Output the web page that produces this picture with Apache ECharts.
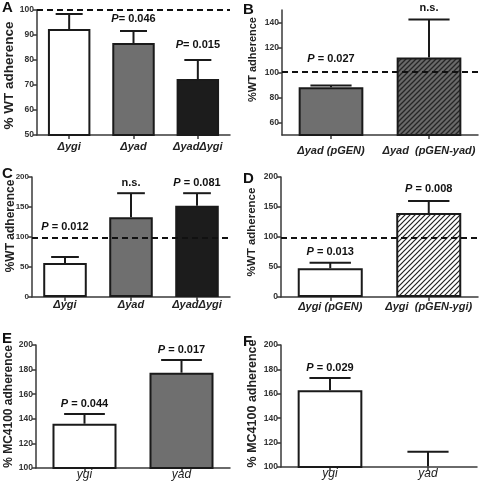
<!DOCTYPE html>
<html><head><meta charset="utf-8">
<script src="https://cdn.jsdelivr.net/npm/echarts@6/dist/echarts.min.js"></script>
<style>html,body{margin:0;padding:0;background:#fff}#c{width:480px;height:484px}</style>
</head><body><div id="c"></div>
<script>
// ---------- DATA ----------
// Panel A
const catsA = ['Δygi', 'Δyad', 'ΔyadΔygi'];
const meanA = [92.4, 86.8, 72.4];
const errA = [6.0, 4.8, 7.6];
const noteA = ['', 'P= 0.046', 'P= 0.015'];
const noteAtA = [0, 96.4, 86];
const refA = 100;
const ticksA = [50, 60, 70, 80, 90, 100];
// Panel B
const catsB = ['Δyad (pGEN)', 'Δyad  (pGEN-yad)'];
const meanB = [88.2, 112];
const errB = [1.4, 30.4];
const noteB = ['P = 0.027', 'n.s.'];
const noteAtB = [111.2, 152];
const refB = 101;
const ticksB = [60, 80, 100, 120, 140];
// Panel C
const catsC = ['Δygi', 'Δyad', 'ΔyadΔygi'];
const meanC = [56.7, 133, 152];
const errC = [10, 40, 21];
const noteC = ['P = 0.012', 'n.s.', 'P = 0.081'];
const noteAtC = [116.7, 190, 190];
const refC = 98;
const ticksC = [0, 50, 100, 150, 200];
// Panel D
const catsD = ['Δygi (pGEN)', 'Δygi  (pGEN-ygi)'];
const meanD = [48, 140];
const errD = [9, 20];
const noteD = ['P = 0.013', 'P = 0.008'];
const noteAtD = [75, 180];
const refD = 98;
const ticksD = [0, 50, 100, 150, 200];
// Panel E
const catsE = ['ygi', 'yad'];
const meanE = [136, 177.5];
const errE = [8, 10.3];
const noteE = ['P = 0.044', 'P = 0.017'];
const noteAtE = [152, 196];
const ticksE = [100, 120, 140, 160, 180, 200];
// Panel F
const catsF = ['ygi', 'yad'];
const meanF = [163, 100.5];
const errF = [10, 12];
const noteF = ['P = 0.029', ''];
const noteAtF = [181, 0];
const ticksF = [100, 120, 140, 160, 180, 200];

// ---------- STYLE ----------
const FONT = 'Liberation Sans, Arial, sans-serif';
const INK = '#1a1a1a';
function hatch(bg, fg, s, lw) {
  const c = document.createElement('canvas');
  c.width = s; c.height = s;
  const x = c.getContext('2d');
  x.fillStyle = bg; x.fillRect(0, 0, s, s);
  x.strokeStyle = fg; x.lineWidth = lw;
  x.beginPath();
  x.moveTo(0, s); x.lineTo(s, 0);
  x.moveTo(-1, 1); x.lineTo(1, -1);
  x.moveTo(s - 1, s + 1); x.lineTo(s + 1, s - 1);
  x.stroke();
  return { image: c, repeat: 'repeat' };
}
const FILL = {
  white: '#ffffff',
  grey: '#6f6f6f',
  black: '#1c1c1c',
  hatchGrey: hatch('#6a6a6a', '#262626', 5, 1.3),
  hatchWhite: hatch('#ffffff', '#222222', 5, 1.2)
};

const panels = [
  { cats: catsA, mean: meanA, err: errA, note: noteA, noteAt: noteAtA, ref: refA, ticks: ticksA, min: 50, max: 100,
    fills: ['white', 'grey', 'black'], grid: { left: 37, top: 10, width: 193, height: 125 }, tickSize: 8.5,
    name: '% WT adherence', nameSize: 13.5, nameGap: 21, namePad: [0, 6, 0, 0],
    catStyle: { fontStyle: 'italic', fontWeight: 'bold', fontSize: 11 }, catMargin: 6.5, letter: 'A', lx: 2, ly: 0 },
  { cats: catsB, mean: meanB, err: errB, note: noteB, noteAt: noteAtB, ref: refB, ticks: ticksB, min: 50, max: 150,
    fills: ['grey', 'hatchGrey'], grid: { left: 282, top: 10, width: 196, height: 125 }, tickSize: 8.5,
    name: '%WT adherence', nameSize: 11, nameGap: 23.5, namePad: [0, 0, 0, 26],
    catStyle: { fontStyle: 'italic', fontWeight: 'bold', fontSize: 11 }, catMargin: 10, letter: 'B', lx: 243, ly: 2 },
  { cats: catsC, mean: meanC, err: errC, note: noteC, noteAt: noteAtC, ref: refC, ticks: ticksC, min: 0, max: 200,
    fills: ['white', 'grey', 'black'], grid: { left: 32, top: 177, width: 198, height: 120 }, tickSize: 8,
    name: '%WT adherence', nameSize: 12, nameGap: 15, namePad: [0, 0, 0, 22],
    catStyle: { fontStyle: 'italic', fontWeight: 'bold', fontSize: 11 }, catMargin: 2, letter: 'C', lx: 2, ly: 166 },
  { cats: catsD, mean: meanD, err: errD, note: noteD, noteAt: noteAtD, ref: refD, ticks: ticksD, min: 0, max: 200,
    fills: ['white', 'hatchWhite'], grid: { left: 281, top: 177, width: 197, height: 120 }, tickSize: 8.5,
    name: '%WT adherence', nameSize: 11.5, nameGap: 23, namePad: [0, 0, 0, 10],
    catStyle: { fontStyle: 'italic', fontWeight: 'bold', fontSize: 11 }, catMargin: 4, letter: 'D', lx: 243, ly: 171 },
  { cats: catsE, mean: meanE, err: errE, note: noteE, noteAt: noteAtE, ref: null, ticks: ticksE, min: 100, max: 200,
    fills: ['white', 'grey'], grid: { left: 36, top: 345, width: 194, height: 123 }, tickSize: 8.5,
    name: '% MC4100 adherence', nameSize: 12, nameGap: 21, namePad: [0, 0, 0, 0],
    catStyle: { fontStyle: 'italic', fontWeight: 'normal', fontSize: 12 }, catMargin: 1, letter: 'E', lx: 2, ly: 331 },
  { cats: catsF, mean: meanF, err: errF, note: noteF, noteAt: noteAtF, ref: null, ticks: ticksF, min: 100, max: 200,
    fills: ['white', 'white'], grid: { left: 281, top: 345, width: 196, height: 122 }, tickSize: 8.5,
    name: '% MC4100 adherence', nameSize: 12.5, nameGap: 22, namePad: [0, 0, 0, 5],
    catStyle: { fontStyle: 'italic', fontWeight: 'normal', fontSize: 12 }, catMargin: 1, letter: 'F', lx: 243, ly: 334 }
];

const option = { animation: false, backgroundColor: '#fff', grid: [], xAxis: [], yAxis: [], series: [], graphic: [] };
const axisLine = { show: true, lineStyle: { color: '#3a3a3a', width: 1.5 } };

function richNote(t) {
  if (!t) return '';
  if (t[0] === 'P') return '{i|P}{b|' + t.slice(1) + '}';
  return '{b|' + t + '}';
}

panels.forEach((p, k) => {
  option.grid.push(Object.assign({ containLabel: false }, p.grid));
  option.xAxis.push({
    type: 'category', gridIndex: k, data: p.cats,
    axisLine: axisLine,
    axisTick: { show: true, alignWithLabel: true, length: 4, lineStyle: { color: '#3a3a3a', width: 1.5 } },
    axisLabel: Object.assign({ color: '#222', fontFamily: FONT, margin: p.catMargin, interval: 0 }, p.catStyle),
    splitLine: { show: false }
  });
  option.yAxis.push({
    type: 'value', gridIndex: k, min: p.min, max: p.max,
    axisLine: axisLine,
    axisTick: { show: true, length: 4, customValues: p.ticks, lineStyle: { color: '#3a3a3a', width: 1.5 } },
    axisLabel: { customValues: p.ticks, fontSize: p.tickSize, fontWeight: 'bold', color: '#333', fontFamily: FONT, margin: 3 },
    splitLine: { show: false },
    name: p.name, nameLocation: 'middle', nameGap: p.nameGap, nameMoveOverlap: false,
    nameTextStyle: { fontSize: p.nameSize, fontWeight: 'bold', color: '#222', fontFamily: FONT, padding: p.namePad }
  });
  const bar = {
    type: 'bar', xAxisIndex: k, yAxisIndex: k, barWidth: '66%', silent: true,
    data: p.mean.map((v, i) => ({ value: v, itemStyle: { color: FILL[p.fills[i]] } })),
    itemStyle: { borderColor: INK, borderWidth: 2 },
    z: 2
  };
  if (p.ref != null) {
    bar.markLine = {
      silent: true, symbol: ['none', 'none'], label: { show: false },
      lineStyle: { color: '#111', width: 2, type: [6, 4] },
      data: [{ yAxis: p.ref }]
    };
  }
  option.series.push(bar);
  const note = p.note;
  option.series.push({
    type: 'custom', xAxisIndex: k, yAxisIndex: k, clip: false, silent: true, z: 3,
    data: p.mean.map((v, i) => [i, v, v + p.err[i], p.noteAt[i] || v]),
    renderItem: function (params, api) {
      const i = api.value(0);
      const a = api.coord([i, api.value(1)]);
      const b = api.coord([i, api.value(2)]);
      const t = api.coord([i, api.value(3)]);
      const band = api.size([1, 0])[0];
      const half = band * 0.21;
      const children = [
        { type: 'line', shape: { x1: a[0], y1: a[1], x2: b[0], y2: b[1] }, style: { stroke: INK, lineWidth: 2 } },
        { type: 'line', shape: { x1: b[0] - half, y1: b[1], x2: b[0] + half, y2: b[1] }, style: { stroke: INK, lineWidth: 2 } }
      ];
      const txt = note[params.dataIndex];
      if (txt) {
        children.push({
          type: 'text', x: t[0], y: t[1],
          style: {
            text: richNote(txt), align: 'center', verticalAlign: 'middle',
            rich: {
              i: { fontStyle: 'italic', fontWeight: 'bold', fontSize: 11, fontFamily: FONT, fill: '#111' },
              b: { fontWeight: 'bold', fontSize: 11, fontFamily: FONT, fill: '#111' }
            }
          }
        });
      }
      return { type: 'group', children: children };
    }
  });
  option.graphic.push({
    type: 'text', left: p.lx, top: p.ly,
    style: { text: p.letter, font: 'bold 15px ' + FONT, fill: '#111' }
  });
});

const chart = echarts.init(document.getElementById('c'), null, { renderer: 'canvas' });
chart.setOption(option);
</script>
</body></html>
